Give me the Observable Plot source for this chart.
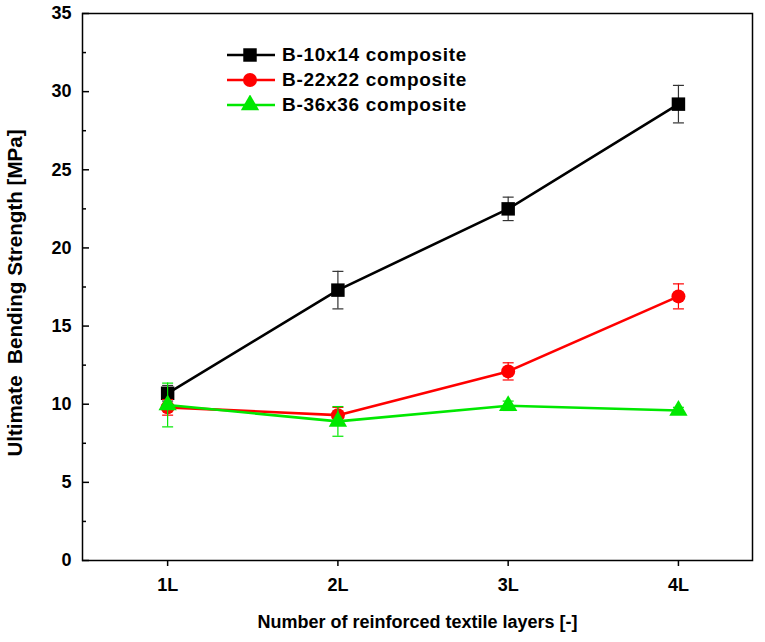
<!DOCTYPE html>
<html><head><meta charset="utf-8">
<script src="https://cdn.jsdelivr.net/npm/d3@7"></script>
<script src="https://cdn.jsdelivr.net/npm/@observablehq/plot@0.6"></script>
<style>
body{margin:0;background:#fff}
#wrap{position:relative;width:765px;height:642px;font-family:"Liberation Sans",Arial,sans-serif}
#legend{position:absolute;left:225px;top:42px}
.row{display:flex;align-items:center;height:25px;font-weight:bold;font-size:19px;letter-spacing:0.7px;color:#000}
.row svg{margin-right:5px}
</style>
</head><body><div id="wrap"></div>
<script>
const layers = [1, 2, 3, 4];
const layerLabels = ["1L", "2L", "3L", "4L"];
const seriesNames = ["B-10x14 composite", "B-22x22 composite", "B-36x36 composite"];
const b10x14 = [10.7, 17.3, 22.5, 29.2];
const b10x14Err = [0.5, 1.2, 0.75, 1.2];
const b22x22 = [9.8, 9.3, 12.1, 16.9];
const b22x22Err = [0.5, 0.5, 0.55, 0.8];
const b36x36 = [9.95, 8.9, 9.9, 9.6];
const b36x36Err = [1.4, 0.95, 0.3, 0.2];
const seriesColors = ["#000000", "#ff0000", "#00e800"];
const errColors = ["#333333", "#ff0000", "#00e800"];
const seriesSymbols = ["square", "circle", "triangle"];
const seriesR = [7.6, 7, 6.8];
const yMajor = [0, 5, 10, 15, 20, 25, 30, 35];
const yMinor = [2.5, 7.5, 12.5, 17.5, 22.5, 27.5, 32.5];

const values = [b10x14, b22x22, b36x36];
const errs = [b10x14Err, b22x22Err, b36x36Err];
const rows = [];
values.forEach((arr, s) => arr.forEach((v, i) => rows.push({
  series: seriesNames[s], s, x: layers[i], y: v, lo: v - errs[s][i], hi: v + errs[s][i]
})));

const capSymbol = {draw(ctx, size) { const r = 5.5; ctx.moveTo(-r, 0); ctx.lineTo(r, 0); }};

const marks = [Plot.frame({stroke: "black", strokeWidth: 1.5})];
marks.push(Plot.axisY({ticks: yMajor, tickSize: -7, tickPadding: 18, strokeWidth: 1.5, fontSize: 18, label: null}));
marks.push(Plot.axisY({ticks: yMinor, tickSize: -4, tickFormat: () => "", strokeWidth: 1.5, label: null}));
marks.push(Plot.axisX({ticks: layers, tickFormat: d => layerLabels[d - 1], tickSize: 6, tickPadding: 12, strokeWidth: 1.5, fontSize: 18, label: null}));
marks.push(Plot.text(["Number of reinforced textile layers [-]"], {frameAnchor: "bottom", dy: 67, fontSize: 18, fontWeight: "bold"}));
marks.push(Plot.text(["Ultimate  Bending Strength [MPa]"], {frameAnchor: "left", dx: -67, dy: 6, rotate: -90, textAnchor: "middle", fontSize: 20.6, fontWeight: "bold"}));

[0, 1, 2].forEach(s => {
  const d = rows.filter(r => r.s === s);
  marks.push(Plot.line(d, {x: "x", y: "y", stroke: seriesColors[s], strokeWidth: 2.6}));
  marks.push(Plot.ruleX(d, {x: "x", y1: "lo", y2: "hi", stroke: errColors[s], strokeWidth: 1.2}));
  marks.push(Plot.dot(d, {x: "x", y: "hi", symbol: capSymbol, stroke: errColors[s], strokeWidth: 1.2}));
  marks.push(Plot.dot(d, {x: "x", y: "lo", symbol: capSymbol, stroke: errColors[s], strokeWidth: 1.2}));
  marks.push(Plot.dot(d, {x: "x", y: "y", symbol: seriesSymbols[s], r: seriesR[s], fill: seriesColors[s], stroke: "none"}));
});

const chart = Plot.plot({
  width: 765, height: 642,
  marginLeft: 82, marginRight: 13, marginTop: 13, marginBottom: 82,
  style: {fontFamily: "'Liberation Sans', Arial, sans-serif", fontWeight: "bold", background: "#fff", color: "#000"},
  x: {type: "linear", domain: [0.5, 4.435]},
  y: {domain: [0, 35]},
  marks
});
chart.querySelectorAll("text").forEach(t => t.style.whiteSpace = "pre");
const wrap = document.getElementById("wrap");
wrap.appendChild(chart);

const legend = document.createElement("div");
legend.id = "legend";
seriesNames.forEach((name, s) => {
  const row = document.createElement("div");
  row.className = "row";
  const sym = d3.symbol(s === 0 ? d3.symbolSquare : s === 1 ? d3.symbolCircle : d3.symbolTriangle, Math.PI * seriesR[s] * seriesR[s]);
  row.innerHTML = `<svg width="52" height="20"><line x1="2" x2="50" y1="10" y2="10" stroke="${seriesColors[s]}" stroke-width="2.6"/><path transform="translate(25,10)" d="${sym()}" fill="${seriesColors[s]}"/></svg><span>${name}</span>`;
  legend.appendChild(row);
});
wrap.appendChild(legend);
</script>
</body></html>
